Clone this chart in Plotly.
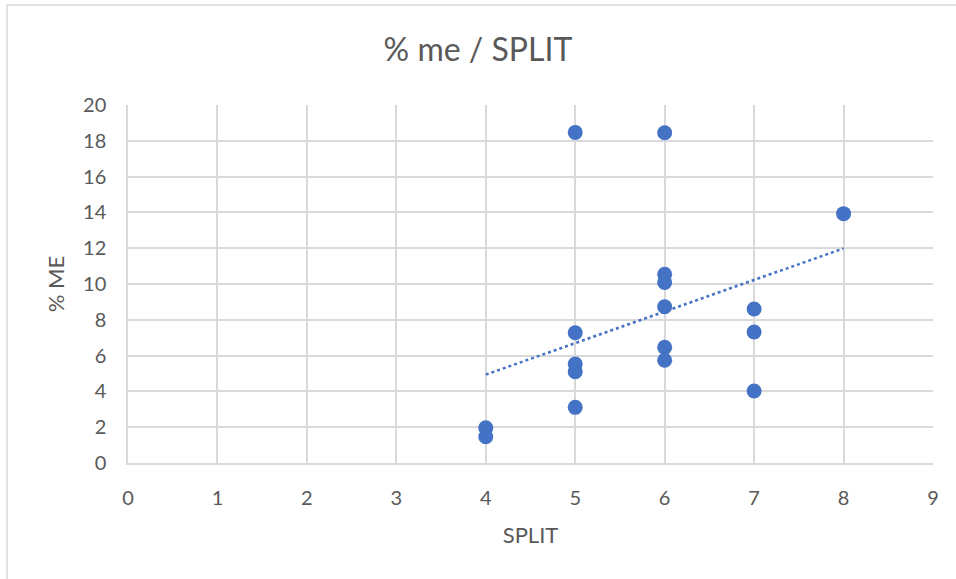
import numpy as np
import plotly.graph_objects as go

split = [4, 4, 5, 5, 5, 5, 5, 6, 6, 6, 6, 6, 6, 7, 7, 7, 8]
pct_me = [1.97, 1.47, 18.47, 7.28, 5.53, 5.10, 3.11, 18.45, 10.54, 10.09, 8.73, 6.46, 5.74, 8.60, 7.32, 4.02, 13.93]
x_ticks = list(range(0, 10))
y_ticks = list(range(0, 21, 2))

blue = "#4472C4"
grid = "#D9D9D9"
txt = "#595959"
font = "Lato, 'Open Sans', sans-serif"

slope, intercept = np.polyfit(split, pct_me, 1)
tx = [min(split), max(split)]
ty = [slope * v + intercept for v in tx]

fig = go.Figure()
fig.add_trace(go.Scatter(x=tx, y=ty, mode="lines",
                         line=dict(color=blue, width=2.5, dash="dot"),
                         hoverinfo="skip", showlegend=False))
fig.add_trace(go.Scatter(x=split, y=pct_me, mode="markers",
                         marker=dict(color=blue, size=15, line=dict(width=0)),
                         showlegend=False))

W, H = 956, 579
l, r, t, b = 128, 23, 105, 116
pw, ph = W - l - r, H - t - b

fig.add_shape(type="rect", xref="paper", yref="paper",
              x0=(7 - l) / pw, x1=(W + 10 - l) / pw,
              y0=-(H + 10 - (H - b)) / ph, y1=1 + (t - 5) / ph,
              line=dict(color=grid, width=1.5), fillcolor="rgba(0,0,0,0)", layer="below")

fig.update_layout(
    width=W, height=H,
    margin=dict(l=l, r=r, t=t, b=b),
    paper_bgcolor="white", plot_bgcolor="white",
    title=dict(text="% me / SPLIT", x=0.5, xanchor="center", y=1 - 50 / H, yanchor="middle",
               font=dict(family=font, size=32, color=txt)),
    font=dict(family=font, color=txt),
    xaxis=dict(range=[0, 9], tickvals=x_ticks, showgrid=True, gridcolor=grid, gridwidth=1.5,
               showline=True, linecolor=grid, linewidth=1.5, zeroline=False,
               tickfont=dict(size=20, color=txt), ticklabelstandoff=16,
               title=dict(text="SPLIT", font=dict(size=22, color=txt), standoff=20)),
    yaxis=dict(range=[0, 20], tickvals=y_ticks, showgrid=True, gridcolor=grid, gridwidth=1.5,
               showline=True, linecolor=grid, linewidth=1.5, zeroline=False,
               tickfont=dict(size=20, color=txt), ticklabelstandoff=16,
               title=dict(text="% ME", font=dict(size=22, color=txt), standoff=12)),
)
fig.write_html("out.html", config={"displayModeBar": False},
               post_script="document.body.style.margin='0';document.body.style.overflow='hidden';")
